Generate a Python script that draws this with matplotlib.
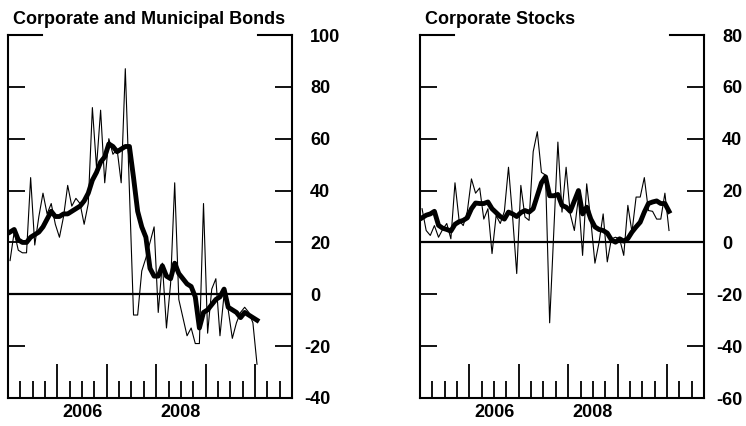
import numpy as np
import matplotlib
matplotlib.use('Agg')
import matplotlib.pyplot as plt
from matplotlib.transforms import ScaledTranslation

plt.rcParams['font.family'] = ['Liberation Sans', 'DejaVu Sans']
plt.rcParams['font.weight'] = 'bold'
plt.rcParams['axes.unicode_minus'] = False

# monthly points, Jan 2005 .. Jan 2010 (plotted mid-month)
months = np.arange(61)
dates = 2005 + (months + 0.5) / 12

bonds_monthly = [13, 24, 17, 16, 16, 45, 19, 30, 39, 31,
                 35, 27, 22, 30, 42, 34, 37, 35, 27, 35,
                 72, 49, 71, 43, 60, 54, 56, 43, 87, 40,
                 -8, -8, 9, 14, 20, 26, -7, 12, -13, 4,
                 43, -2, -9, -16, -13, -19, -19, 35, -15, 2,
                 6, -16, 0, -6, -17, -11, -7, -5, -7, -11,
                 -27]
bonds_smooth = [24, 25, 21, 20, 20, 22, 23, 24, 26, 29,
                32, 30, 30, 31, 31, 32, 33, 34, 36, 39,
                44, 47, 51, 53, 58, 57, 55, 56, 57, 57,
                45, 32, 26, 22, 10, 7, 7, 11, 7, 6,
                12, 8, 6, 4, 3, -1, -13, -7, -6, -4,
                -2, -1, 2, -5, -6, -7, -9, -7, -8, -9,
                -10]

stocks_monthly = [13, 4.6, 2.7, 6.5, 2, 5, 7.3, 1.4, 23, 8.5,
                  6.5, 12, 24.5, 19, 21, 9, 13, -4.3, 10.4, 7.3,
                  12, 29, 9.8, -12, 22, 9.8, 8.5, 35, 42.7, 27,
                  26, -31, 4, 38.7, 11.7, 29, 11, 4.6, 17.5, -5,
                  22.6, 8.5, -8, 0, 11, -7.5, 1.4, 2, 1.4, -5,
                  14.3, 4, 17.5, 17.5, 25, 12.3, 12, 9, 9, 19,
                  4.6]
stocks_smooth = [9.5, 10.5, 11, 12, 6.6, 5.5, 5, 4.4, 7, 8,
                 8.5, 9.5, 13, 15.2, 15, 15, 15.6, 13, 11.5, 10,
                 9, 11.7, 11, 10, 11.5, 12.3, 11.7, 13, 18, 23,
                 25.3, 18, 18, 18.5, 14.3, 13.6, 12, 16, 20, 11,
                 13.6, 9, 6, 5, 4.6, 3.6, 1, 0.1, 1.4, 0.5,
                 1.5, 4, 6, 7.8, 11.7, 15, 15.6, 16, 15, 15,
                 12]

panels = [
    ("Corporate and Municipal Bonds", bonds_monthly, bonds_smooth, (-40, 100)),
    ("Corporate Stocks", stocks_monthly, stocks_smooth, (-60, 80)),
]

years = np.arange(2005, 2011)
quarters = [y + q / 4 for y in range(2005, 2011) for q in range(1, 4)]
quarter_labels = ['2006' if abs(q - 2006.5) < 1e-6 else '2008' if abs(q - 2008.5) < 1e-6 else '' for q in quarters]

fig = plt.figure(figsize=(7.46, 4.26), dpi=100)
lefts = [8 / 746, 420 / 746]
W, H = 746, 426
for (title, thin, thick, ylim), left in zip(panels, lefts):
    ax = fig.add_axes([left, 1 - 398 / H, 284 / W, 363 / H])
    ax.plot(dates, thin, color='black', lw=0.8)
    ax.plot(dates, thick, color='black', lw=3.5, solid_joinstyle='round')
    ax.axhline(0, color='black', lw=1.6)

    ax.set_xlim(2005, 2010.5)
    ax.set_ylim(*ylim)
    yt = np.arange(ylim[0], ylim[1] + 1, 20)
    ax.set_yticks(yt, labels=[str(v) for v in yt])
    ax.set_xticks(years, labels=[''] * len(years))
    ax.set_xticks(quarters, labels=quarter_labels, minor=True)

    ax.tick_params(axis='y', direction='in', length=12.2, width=1.3,
                   left=True, right=True, labelleft=False, labelright=True,
                   labelsize=13, pad=13)
    ax.tick_params(axis='x', which='major', direction='in', length=24.5, width=1.3)
    ax.tick_params(axis='x', which='minor', direction='in', length=12.2, width=1.3,
                   labelsize=13, pad=4)
    # digits line up, minus sign hangs to the left
    for tick in ax.yaxis.get_major_ticks():
        lbl = tick.label2
        lbl.set_horizontalalignment('left')
        if lbl.get_text().startswith('-'):
            lbl.set_transform(lbl.get_transform() + ScaledTranslation(-6 / 100, 0, fig.dpi_scale_trans))

    ax.spines['top'].set_visible(False)
    for s in ['left', 'right', 'bottom']:
        ax.spines[s].set_linewidth(1.5)

    # longer marks at the top corners
    ax.plot([0, 34 / 284], [1, 1], transform=ax.transAxes, color='black', lw=1.5, clip_on=False)
    ax.plot([1 - 34 / 284, 1], [1, 1], transform=ax.transAxes, color='black', lw=1.5, clip_on=False)

    ax.annotate(title, xy=(0, 1), xycoords='axes fraction', xytext=(3.5, 8),
                textcoords='offset points', ha='left', va='baseline', fontsize=13)

fig.savefig('out.png', dpi=100)
